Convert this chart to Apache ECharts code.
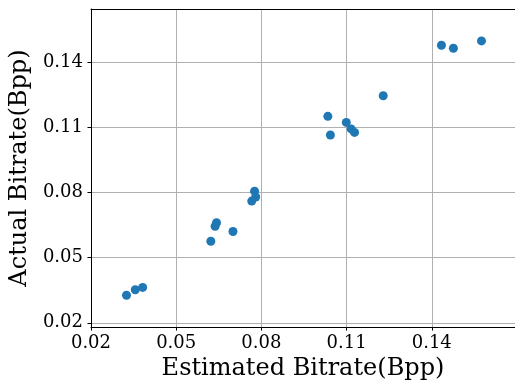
<!DOCTYPE html>
<html lang="en">
<head>
    <meta charset="UTF-8">
    <title>bitrate scatter</title>
    <style>
        html, body { margin: 0; padding: 0; background: #fff; }
    </style>
</head>
<body>
<div id="container" style="width:515px;height:386px"></div>

<script type="text/javascript" src="https://cdn.jsdelivr.net/npm/echarts@6/dist/echarts.min.js"></script>
<script type="text/javascript">
    // values
    var estimated = [0.0325, 0.0356, 0.0382, 0.0622, 0.0637, 0.0642, 0.0700, 0.0766, 0.0776, 0.0780,
        0.1034, 0.1043, 0.1099, 0.1116, 0.1128, 0.1229, 0.1434, 0.1476, 0.1575];
    var actual = [0.0327, 0.0352, 0.0363, 0.0576, 0.0645, 0.0661, 0.0621, 0.0761, 0.0807, 0.0780,
        0.1152, 0.1066, 0.1124, 0.1094, 0.1078, 0.1247, 0.1480, 0.1466, 0.1500];
    var xTicks = [0.02, 0.05, 0.08, 0.11, 0.14];
    var yTicks = [0.02, 0.05, 0.08, 0.11, 0.14];

    var dotColor = '#1f77b4';
    var gridColor = '#b0b0b0';
    var textColor = '#000';
    var fontName = 'DejaVu Serif';

    var points = estimated.map(function (x, i) {
        return [x, actual[i]];
    });

    var dom = document.getElementById("container");
    var myChart = echarts.init(dom, null, {renderer: 'canvas'});
    myChart.setOption(drawScatter(), true);

    function tickFmt(val) {
        return val.toFixed(2);
    }

    function drawScatter() {
        return {
            animation: false,
            grid: {
                left: 89.5,
                right: 0,
                top: 9,
                bottom: 58
            },
            xAxis: [{
                type: 'value',
                min: 0.02,
                max: 0.1693,
                name: 'Estimated Bitrate(Bpp)',
                nameLocation: 'middle',
                nameGap: 29,
                nameTextStyle: {color: textColor, fontFamily: fontName, fontSize: 24},
                axisLine: {show: true, onZero: false, lineStyle: {color: '#000', width: 1}},
                axisTick: {show: true, length: 3.5, customValues: xTicks, lineStyle: {color: '#000'}},
                axisLabel: {
                    customValues: xTicks,
                    formatter: tickFmt,
                    color: textColor, fontFamily: fontName, fontSize: 18, margin: 7
                },
                splitLine: {show: true, lineStyle: {color: gridColor, width: 1}}
            }, {
                type: 'value',
                position: 'top',
                min: 0.02,
                max: 0.1693,
                axisLine: {show: true, onZero: false, lineStyle: {color: '#000', width: 1}},
                axisTick: {show: false},
                axisLabel: {show: false},
                splitLine: {show: false}
            }],
            yAxis: {
                type: 'value',
                min: 0.018,
                max: 0.1647,
                name: 'Actual Bitrate(Bpp)',
                nameLocation: 'middle',
                nameGap: 57,
                nameTextStyle: {color: textColor, fontFamily: fontName, fontSize: 24},
                axisLine: {show: true, onZero: false, lineStyle: {color: '#000', width: 1}},
                axisTick: {show: true, length: 3.5, customValues: yTicks, lineStyle: {color: '#000'}},
                axisLabel: {
                    customValues: yTicks,
                    formatter: tickFmt,
                    color: textColor, fontFamily: fontName, fontSize: 18, margin: 8
                },
                splitLine: {show: true, lineStyle: {color: gridColor, width: 1}}
            },
            series: [{
                type: 'scatter',
                xAxisIndex: 0,
                data: points,
                symbolSize: 9,
                itemStyle: {color: dotColor, opacity: 1}
            }]
        };
    }
</script>
</body>
</html>
